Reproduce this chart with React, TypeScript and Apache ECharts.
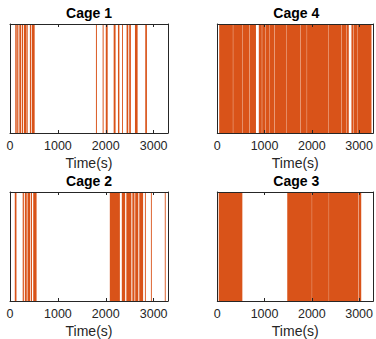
import React, { useEffect, useRef } from "react";
import * as echarts from "echarts";

const titles = ["Cage 1", "Cage 4", "Cage 2", "Cage 3"];
const xTicks = [0, 1000, 2000, 3000];
const xMax = 3300;
const xLabel = "Time(s)";

// activity intervals [start, end] in seconds
const cage1 = [
  [110, 140], [150, 175], [195, 235], [250, 275], [292, 345], [355, 365], [415, 440], [455, 515],
  [1795, 1815], [1935, 1955], [2000, 2040], [2165, 2205], [2255, 2285], [2345, 2355],
  [2435, 2470], [2490, 2525], [2610, 2665], [2825, 2860],
];
const cage4 = [
  [40, 330], [336, 525], [531, 680], [686, 818], [878, 942], [949, 1010], [1017, 1095],
  [1101, 1206], [1212, 1455], [1461, 1754], [1760, 1893], [1899, 2344], [2350, 2622],
  [2628, 2726], [2732, 2782], [2838, 2880], [2886, 2970], [2976, 3262],
];
const cage2 = [
  [100, 135], [265, 290], [310, 350], [365, 420], [435, 460], [485, 555],
  [2085, 2295], [2335, 2405], [2430, 2535], [2555, 2600], [2615, 2680], [2700, 2780],
  [2820, 2835], [2945, 2960], [3235, 3250],
];
const cage3 = [
  [30, 530], [1480, 2000], [2005, 2359], [2364, 2985], [2992, 3045],
];

const panelData = [cage1, cage4, cage2, cage3];

const ORANGE = "#D95319";
const AX = "#262626";
const FONT = "Liberation Sans, Arial, Helvetica, sans-serif";

const grids = [
  { left: 10, top: 24, width: 158, height: 109 },
  { left: 217.3, top: 24, width: 158, height: 109 },
  { left: 10, top: 192, width: 158, height: 110 },
  { left: 217.3, top: 192, width: 158, height: 110 },
];

export default function App() {
  const ref = useRef<HTMLDivElement>(null);
  useEffect(() => {
    document.body.style.margin = "0";
    const chart = echarts.init(ref.current!, null, { renderer: "svg" });
    const xAxes: any[] = [];
    const yAxes: any[] = [];
    const series: any[] = [];
    const graphics: any[] = [];
    grids.forEach((g, i) => {
      const common = {
        gridIndex: i,
        type: "value",
        min: xTicks[0],
        max: xMax,
        interval: xTicks[1] - xTicks[0],
        splitLine: { show: false },
        axisLine: { show: true, onZero: false, lineStyle: { color: AX, width: 1 } },
        axisTick: { show: true, inside: true, length: 3, lineStyle: { color: AX } },
        z: 10,
      };
      xAxes.push({
        ...common,
        position: "bottom",
        axisLabel: {
          show: true,
          fontSize: 12.5,
          color: AX,
          fontFamily: FONT,
          margin: 6,
          showMaxLabel: false,
          formatter: (v: number) => String(v),
        },
        name: xLabel,
        nameLocation: "middle",
        nameGap: 23,
        nameTextStyle: { fontSize: 14, color: AX, fontFamily: FONT },
      });
      xAxes.push({
        ...common,
        position: "top",
        axisLabel: { show: false },
      });
      const ycommon = {
        gridIndex: i,
        type: "value",
        min: 0,
        max: 1,
        splitLine: { show: false },
        axisTick: { show: false },
        axisLabel: { show: false },
        axisLine: { show: true, onZero: false, lineStyle: { color: AX, width: 1 } },
        z: 10,
      };
      yAxes.push({ ...ycommon, position: "left" });
      yAxes.push({ ...ycommon, position: "right" });
      series.push({
        type: "custom",
        xAxisIndex: i * 2,
        yAxisIndex: i * 2,
        data: panelData[i],
        encode: { x: [0, 1] },
        renderItem: (params: any, api: any) => {
          const a = api.coord([api.value(0), 1]);
          const b = api.coord([api.value(1), 0]);
          let x = a[0];
          let w = b[0] - a[0];
          if (w < 0.9) {
            x = (a[0] + b[0]) / 2 - 0.45;
            w = 0.9;
          }
          const cs = params.coordSys;
          const rect = echarts.graphic.clipRectByRect(
            { x, y: a[1], width: w, height: b[1] - a[1] },
            { x: cs.x, y: cs.y, width: cs.width, height: cs.height }
          );
          if (!rect) return null;
          return { type: "rect", shape: rect, style: { fill: ORANGE } };
        },
      });
      graphics.push({
        type: "text",
        x: g.left + g.width / 2,
        y: i < 2 ? 12.5 : 181,
        style: {
          text: titles[i],
          textAlign: "center",
          textVerticalAlign: "middle",
          fontSize: 14,
          fontWeight: "bold",
          fontFamily: FONT,
          fill: "#000",
        },
      });
    });
    chart.setOption({
      animation: false,
      backgroundColor: "#fff",
      grid: grids.map((g) => ({ ...g, containLabel: false })),
      xAxis: xAxes,
      yAxis: yAxes,
      series,
      graphic: graphics,
    });
    return () => chart.dispose();
  }, []);
  return <div ref={ref} style={{ width: 376, height: 339 }} />;
}
